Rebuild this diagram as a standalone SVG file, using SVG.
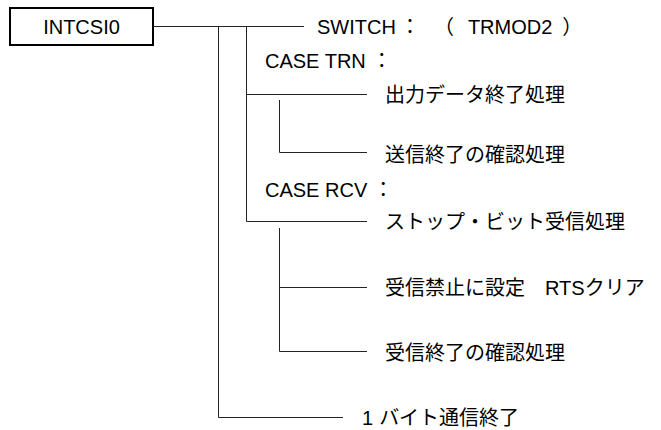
<svg xmlns="http://www.w3.org/2000/svg" width="661" height="430" viewBox="0 0 661 430">
<style>
  .t { font-family: "Liberation Sans", "Noto Sans CJK JP", sans-serif; font-size: 20px; fill: #000; dominant-baseline: central; text-spacing-trim: space-all; }
  .ln { stroke: #222; stroke-width: 1; fill: none; }
</style>
<rect x="0" y="0" width="661" height="430" fill="#fff"/>
<g id="node-intcsi0">
  <rect x="10" y="8" width="143" height="37" fill="#fff" stroke="#000" stroke-width="2"/>
  <text class="t" x="81.5" y="27" text-anchor="middle">INTCSI0</text>
</g>
<g id="node-switch"><text class="t" x="317" y="27">SWITCH<tspan dx="4">：</tspan><tspan dx="14">（</tspan><tspan dx="14">TRMOD2</tspan><tspan dx="10">）</tspan></text></g>
<g id="node-case-trn"><text class="t" x="265" y="61">CASE TRN<tspan dx="6">：</tspan></text></g>
<g id="node-out-end"><text class="t" x="385" y="95">出力データ終了処理</text></g>
<g id="node-send-check"><text class="t" x="385" y="155">送信終了の確認処理</text></g>
<g id="node-case-rcv"><text class="t" x="265" y="190">CASE RCV<tspan dx="6">：</tspan></text></g>
<g id="node-stop-bit"><text class="t" x="385" y="222">ストップ・ビット受信処理</text></g>
<g id="node-rx-disable"><text class="t" x="385" y="288">受信禁止に設定　RTSクリア</text></g>
<g id="node-rx-check"><text class="t" x="385" y="353">受信終了の確認処理</text></g>
<g id="node-byte-end"><text class="t" x="362" y="418">1<tspan dx="6">バイト通信終了</tspan></text></g>
<g id="connectors">
  <path class="ln" d="M153 26.5H304"/>
  <path class="ln" d="M218.5 26V417.5H343"/>
  <path class="ln" d="M246.5 26V221.5H367"/>
  <path class="ln" d="M246 94.5H367"/>
  <path class="ln" d="M279.5 100V152.5H367"/>
  <path class="ln" d="M279.5 228V351.5H367"/>
  <path class="ln" d="M279 287.5H367"/>
</g>
</svg>
